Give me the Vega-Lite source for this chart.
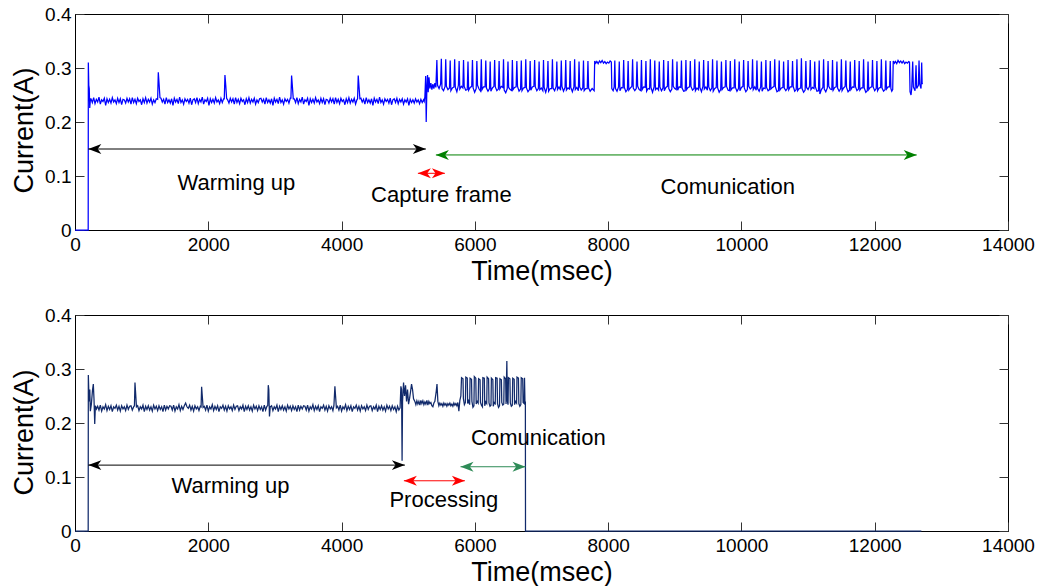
{
"$schema": "https://vega.github.io/schema/vega-lite/v6.json",
"autosize": {"type": "pad"},
"padding": {"left": 10, "top": 4, "right": 5, "bottom": 0},
"background": "white",
"spacing": 85,
"bounds": "flush",
"config": {
  "view": {"stroke": "black", "strokeWidth": 1},
  "font": "Liberation Sans",
  "axis": {"grid": false, "domainColor": "black", "tickColor": "#333333", "labelColor": "black", "labelFont": "Liberation Sans", "labelFontSize": 19, "titleFont": "Liberation Sans", "titleFontSize": 27, "titleFontWeight": "normal", "titleColor": "black", "tickSize": -9, "labelFlush": false, "labelOverlap": false}
},
"datasets": {
"top": [
{"t":0,"c":0},{"t":198,"c":0},{"t":200,"c":0.31},{"t":207,"c":0.268},{"t":214,"c":0.262},{"t":221,"c":0.226},{"t":232,"c":0.243},
{"t":240,"c":0.243},{"t":260,"c":0.236},{"t":280,"c":0.245},{"t":300,"c":0.234},{"t":320,"c":0.242},{"t":340,"c":0.237},{"t":360,"c":0.246},{"t":380,"c":0.233},{"t":400,"c":0.241},{"t":420,"c":0.238},{"t":440,"c":0.244},{"t":460,"c":0.231},{"t":480,"c":0.243},{"t":500,"c":0.236},{"t":520,"c":0.242},{"t":540,"c":0.235},{"t":560,"c":0.245},{"t":580,"c":0.237},{"t":600,"c":0.241},{"t":620,"c":0.234},{"t":640,"c":0.244},{"t":660,"c":0.236},{"t":680,"c":0.243},{"t":700,"c":0.232},{"t":720,"c":0.242},
{"t":740,"c":0.241},{"t":760,"c":0.235},{"t":780,"c":0.244},{"t":800,"c":0.237},{"t":820,"c":0.243},{"t":840,"c":0.233},{"t":860,"c":0.245},{"t":880,"c":0.236},{"t":900,"c":0.242},{"t":920,"c":0.234},{"t":940,"c":0.244},{"t":960,"c":0.238},{"t":980,"c":0.241},{"t":1000,"c":0.232},{"t":1020,"c":0.243},{"t":1040,"c":0.236},{"t":1060,"c":0.245},{"t":1080,"c":0.235},{"t":1100,"c":0.242},{"t":1120,"c":0.237},{"t":1140,"c":0.244},{"t":1160,"c":0.233},{"t":1180,"c":0.241},{"t":1200,"c":0.236},{"t":1220,"c":0.243},{"t":1240,"c":0.242},
{"t":1250,"c":0.292},{"t":1262,"c":0.27},{"t":1275,"c":0.245},
{"t":1290,"c":0.244},{"t":1310,"c":0.237},{"t":1330,"c":0.242},{"t":1350,"c":0.233},{"t":1370,"c":0.245},{"t":1390,"c":0.236},{"t":1410,"c":0.241},{"t":1430,"c":0.235},{"t":1450,"c":0.243},{"t":1470,"c":0.231},{"t":1490,"c":0.244},{"t":1510,"c":0.237},{"t":1530,"c":0.242},{"t":1550,"c":0.234},{"t":1570,"c":0.246},{"t":1590,"c":0.236},{"t":1610,"c":0.241},{"t":1630,"c":0.233},{"t":1650,"c":0.243},{"t":1670,"c":0.238},{"t":1690,"c":0.242},{"t":1710,"c":0.235},{"t":1730,"c":0.244},{"t":1750,"c":0.232},{"t":1770,"c":0.241},
{"t":1790,"c":0.243},{"t":1810,"c":0.236},{"t":1830,"c":0.245},{"t":1850,"c":0.234},{"t":1870,"c":0.242},{"t":1890,"c":0.237},{"t":1910,"c":0.246},{"t":1930,"c":0.233},{"t":1950,"c":0.241},{"t":1970,"c":0.238},{"t":1990,"c":0.244},{"t":2010,"c":0.231},{"t":2030,"c":0.243},{"t":2050,"c":0.236},{"t":2070,"c":0.242},{"t":2090,"c":0.235},{"t":2110,"c":0.245},{"t":2130,"c":0.237},{"t":2150,"c":0.241},{"t":2170,"c":0.234},{"t":2190,"c":0.244},{"t":2210,"c":0.236},{"t":2230,"c":0.243},{"t":2240,"c":0.243},
{"t":2250,"c":0.287},{"t":2262,"c":0.268},{"t":2275,"c":0.244},
{"t":2290,"c":0.241},{"t":2310,"c":0.235},{"t":2330,"c":0.244},{"t":2350,"c":0.237},{"t":2370,"c":0.243},{"t":2390,"c":0.233},{"t":2410,"c":0.245},{"t":2430,"c":0.236},{"t":2450,"c":0.242},{"t":2470,"c":0.234},{"t":2490,"c":0.244},{"t":2510,"c":0.238},{"t":2530,"c":0.241},{"t":2550,"c":0.232},{"t":2570,"c":0.243},{"t":2590,"c":0.236},{"t":2610,"c":0.245},{"t":2630,"c":0.235},{"t":2650,"c":0.242},{"t":2670,"c":0.237},{"t":2690,"c":0.244},{"t":2710,"c":0.233},{"t":2730,"c":0.241},{"t":2750,"c":0.236},{"t":2770,"c":0.243},
{"t":2790,"c":0.244},{"t":2810,"c":0.237},{"t":2830,"c":0.242},{"t":2850,"c":0.233},{"t":2870,"c":0.245},{"t":2890,"c":0.236},{"t":2910,"c":0.241},{"t":2930,"c":0.235},{"t":2950,"c":0.243},{"t":2970,"c":0.231},{"t":2990,"c":0.244},{"t":3010,"c":0.237},{"t":3030,"c":0.242},{"t":3050,"c":0.234},{"t":3070,"c":0.246},{"t":3090,"c":0.236},{"t":3110,"c":0.241},{"t":3130,"c":0.233},{"t":3150,"c":0.243},{"t":3170,"c":0.238},{"t":3190,"c":0.242},{"t":3210,"c":0.235},{"t":3230,"c":0.244},{"t":3240,"c":0.244},
{"t":3250,"c":0.286},{"t":3262,"c":0.266},{"t":3275,"c":0.243},
{"t":3290,"c":0.243},{"t":3310,"c":0.236},{"t":3330,"c":0.245},{"t":3350,"c":0.234},{"t":3370,"c":0.242},{"t":3390,"c":0.237},{"t":3410,"c":0.246},{"t":3430,"c":0.233},{"t":3450,"c":0.241},{"t":3470,"c":0.238},{"t":3490,"c":0.244},{"t":3510,"c":0.231},{"t":3530,"c":0.243},{"t":3550,"c":0.236},{"t":3570,"c":0.242},{"t":3590,"c":0.235},{"t":3610,"c":0.245},{"t":3630,"c":0.237},{"t":3650,"c":0.241},{"t":3670,"c":0.234},{"t":3690,"c":0.244},{"t":3710,"c":0.236},{"t":3730,"c":0.243},{"t":3750,"c":0.232},{"t":3770,"c":0.242},
{"t":3790,"c":0.241},{"t":3810,"c":0.235},{"t":3830,"c":0.244},{"t":3850,"c":0.237},{"t":3870,"c":0.243},{"t":3890,"c":0.233},{"t":3910,"c":0.245},{"t":3930,"c":0.236},{"t":3950,"c":0.242},{"t":3970,"c":0.234},{"t":3990,"c":0.244},{"t":4010,"c":0.238},{"t":4030,"c":0.241},{"t":4050,"c":0.232},{"t":4070,"c":0.243},{"t":4090,"c":0.236},{"t":4110,"c":0.245},{"t":4130,"c":0.235},{"t":4150,"c":0.242},{"t":4170,"c":0.237},{"t":4190,"c":0.244},{"t":4210,"c":0.233},{"t":4230,"c":0.241},{"t":4240,"c":0.243},
{"t":4250,"c":0.286},{"t":4262,"c":0.265},{"t":4275,"c":0.243},
{"t":4290,"c":0.244},{"t":4310,"c":0.237},{"t":4330,"c":0.242},{"t":4350,"c":0.233},{"t":4370,"c":0.245},{"t":4390,"c":0.236},{"t":4410,"c":0.241},{"t":4430,"c":0.235},{"t":4450,"c":0.243},{"t":4470,"c":0.231},{"t":4490,"c":0.244},{"t":4510,"c":0.237},{"t":4530,"c":0.242},{"t":4550,"c":0.234},{"t":4570,"c":0.246},{"t":4590,"c":0.236},{"t":4610,"c":0.241},{"t":4630,"c":0.233},{"t":4650,"c":0.243},{"t":4670,"c":0.238},{"t":4690,"c":0.242},{"t":4710,"c":0.235},{"t":4730,"c":0.244},{"t":4750,"c":0.232},{"t":4770,"c":0.241},
{"t":4790,"c":0.243},{"t":4810,"c":0.236},{"t":4830,"c":0.244},{"t":4850,"c":0.234},{"t":4870,"c":0.242},{"t":4890,"c":0.237},{"t":4910,"c":0.243},{"t":4930,"c":0.233},{"t":4950,"c":0.241},{"t":4970,"c":0.237},{"t":4990,"c":0.243},{"t":5010,"c":0.231},{"t":5030,"c":0.242},{"t":5050,"c":0.236},{"t":5070,"c":0.241},{"t":5090,"c":0.235},{"t":5110,"c":0.243},{"t":5130,"c":0.237},{"t":5150,"c":0.241},{"t":5170,"c":0.234},{"t":5190,"c":0.242},{"t":5210,"c":0.236},{"t":5230,"c":0.241},{"t":5240,"c":0.238},
{"t":5250,"c":0.247},{"t":5262,"c":0.285},{"t":5270,"c":0.2},{"t":5280,"c":0.262},{"t":5290,"c":0.287},{"t":5300,"c":0.255},{"t":5312,"c":0.283},{"t":5325,"c":0.262},{"t":5340,"c":0.272},{"t":5355,"c":0.26},{"t":5370,"c":0.27},{"t":5385,"c":0.262},{"t":5400,"c":0.272},{"t":5415,"c":0.264},
{"t":5430,"c":0.315},{"t":5440,"c":0.268},{"t":5463,"c":0.262},{"t":5486,"c":0.27},
{"t":5497,"c":0.317},{"t":5507,"c":0.262},{"t":5530,"c":0.258},{"t":5553,"c":0.266},
{"t":5563,"c":0.316},{"t":5573,"c":0.266},{"t":5596,"c":0.26},{"t":5619,"c":0.263},
{"t":5630,"c":0.314},{"t":5640,"c":0.258},{"t":5663,"c":0.263},{"t":5686,"c":0.265},
{"t":5697,"c":0.316},{"t":5707,"c":0.264},{"t":5730,"c":0.256},{"t":5753,"c":0.268},
{"t":5764,"c":0.313},{"t":5774,"c":0.261},{"t":5797,"c":0.266},{"t":5820,"c":0.263},
{"t":5830,"c":0.315},{"t":5840,"c":0.266},{"t":5863,"c":0.259},{"t":5886,"c":0.26},
{"t":5897,"c":0.312},{"t":5907,"c":0.259},{"t":5930,"c":0.264},{"t":5953,"c":0.266},
{"t":5964,"c":0.315},{"t":5974,"c":0.263},{"t":5997,"c":0.255},{"t":6020,"c":0.262},
{"t":6030,"c":0.313},{"t":6040,"c":0.268},{"t":6063,"c":0.261},{"t":6086,"c":0.257},
{"t":6097,"c":0.316},{"t":6107,"c":0.26},{"t":6130,"c":0.265},{"t":6153,"c":0.265},
{"t":6164,"c":0.314},{"t":6174,"c":0.263},{"t":6197,"c":0.257},{"t":6220,"c":0.262},
{"t":6230,"c":0.312},{"t":6240,"c":0.257},{"t":6263,"c":0.263},{"t":6286,"c":0.266},
{"t":6297,"c":0.315},{"t":6307,"c":0.265},{"t":6330,"c":0.258},{"t":6353,"c":0.261},
{"t":6364,"c":0.313},{"t":6374,"c":0.261},{"t":6397,"c":0.266},{"t":6420,"c":0.264},
{"t":6430,"c":0.316},{"t":6440,"c":0.259},{"t":6463,"c":0.254},{"t":6486,"c":0.262},
{"t":6497,"c":0.312},{"t":6507,"c":0.264},{"t":6530,"c":0.26},{"t":6553,"c":0.258},
{"t":6563,"c":0.315},{"t":6573,"c":0.26},{"t":6596,"c":0.264},{"t":6619,"c":0.265},
{"t":6630,"c":0.313},{"t":6640,"c":0.266},{"t":6663,"c":0.257},{"t":6686,"c":0.261},
{"t":6697,"c":0.314},{"t":6707,"c":0.258},{"t":6730,"c":0.263},{"t":6753,"c":0.264},
{"t":6764,"c":0.316},{"t":6774,"c":0.263},{"t":6797,"c":0.256},{"t":6820,"c":0.26},
{"t":6830,"c":0.313},{"t":6840,"c":0.259},{"t":6863,"c":0.265},{"t":6886,"c":0.266},
{"t":6897,"c":0.315},{"t":6907,"c":0.265},{"t":6930,"c":0.258},{"t":6953,"c":0.262},
{"t":6964,"c":0.312},{"t":6974,"c":0.26},{"t":6997,"c":0.263},{"t":7020,"c":0.258},
{"t":7030,"c":0.315},{"t":7040,"c":0.264},{"t":7063,"c":0.255},{"t":7086,"c":0.265},
{"t":7097,"c":0.313},{"t":7107,"c":0.257},{"t":7130,"c":0.262},{"t":7153,"c":0.262},
{"t":7164,"c":0.316},{"t":7174,"c":0.263},{"t":7197,"c":0.258},{"t":7220,"c":0.266},
{"t":7230,"c":0.312},{"t":7240,"c":0.26},{"t":7263,"c":0.265},{"t":7286,"c":0.259},
{"t":7297,"c":0.314},{"t":7307,"c":0.266},{"t":7330,"c":0.257},{"t":7353,"c":0.264},
{"t":7364,"c":0.315},{"t":7374,"c":0.259},{"t":7397,"c":0.263},{"t":7420,"c":0.261},
{"t":7430,"c":0.313},{"t":7440,"c":0.264},{"t":7463,"c":0.256},{"t":7486,"c":0.265},
{"t":7497,"c":0.316},{"t":7507,"c":0.26},{"t":7530,"c":0.264},{"t":7553,"c":0.258},
{"t":7563,"c":0.312},{"t":7573,"c":0.265},{"t":7596,"c":0.259},{"t":7619,"c":0.263},
{"t":7630,"c":0.314},{"t":7640,"c":0.258},{"t":7663,"c":0.262},{"t":7686,"c":0.262},
{"t":7697,"c":0.313},{"t":7707,"c":0.263},{"t":7730,"c":0.257},{"t":7760,"c":0.262},{"t":7790,"c":0.258},
{"t":7798,"c":0.313},{"t":7815,"c":0.309},{"t":7830,"c":0.312},{"t":7850,"c":0.308},{"t":7870,"c":0.313},{"t":7890,"c":0.31},{"t":7910,"c":0.314},{"t":7930,"c":0.309},{"t":7950,"c":0.312},{"t":7970,"c":0.308},{"t":7990,"c":0.311},{"t":8010,"c":0.309},{"t":8030,"c":0.313},{"t":8048,"c":0.311},{"t":8055,"c":0.262},{"t":8075,"c":0.258},{"t":8090,"c":0.265},
{"t":8100,"c":0.314},{"t":8110,"c":0.262},{"t":8133,"c":0.257},{"t":8156,"c":0.265},
{"t":8167,"c":0.312},{"t":8177,"c":0.258},{"t":8200,"c":0.264},{"t":8222,"c":0.263},
{"t":8233,"c":0.315},{"t":8243,"c":0.264},{"t":8266,"c":0.256},{"t":8289,"c":0.26},
{"t":8300,"c":0.313},{"t":8310,"c":0.259},{"t":8333,"c":0.263},{"t":8356,"c":0.266},
{"t":8367,"c":0.316},{"t":8377,"c":0.263},{"t":8400,"c":0.258},{"t":8422,"c":0.262},
{"t":8433,"c":0.312},{"t":8443,"c":0.266},{"t":8466,"c":0.26},{"t":8489,"c":0.258},
{"t":8500,"c":0.315},{"t":8510,"c":0.26},{"t":8533,"c":0.265},{"t":8556,"c":0.264},
{"t":8567,"c":0.313},{"t":8577,"c":0.257},{"t":8600,"c":0.262},{"t":8622,"c":0.261},
{"t":8633,"c":0.316},{"t":8643,"c":0.264},{"t":8666,"c":0.255},{"t":8689,"c":0.265},
{"t":8700,"c":0.314},{"t":8710,"c":0.26},{"t":8733,"c":0.263},{"t":8756,"c":0.259},
{"t":8767,"c":0.312},{"t":8777,"c":0.265},{"t":8800,"c":0.258},{"t":8822,"c":0.263},
{"t":8833,"c":0.315},{"t":8843,"c":0.258},{"t":8866,"c":0.264},{"t":8889,"c":0.266},
{"t":8900,"c":0.313},{"t":8910,"c":0.262},{"t":8933,"c":0.256},{"t":8956,"c":0.261},
{"t":8967,"c":0.316},{"t":8977,"c":0.266},{"t":9000,"c":0.262},{"t":9022,"c":0.26},
{"t":9033,"c":0.312},{"t":9043,"c":0.259},{"t":9066,"c":0.265},{"t":9089,"c":0.264},
{"t":9100,"c":0.314},{"t":9110,"c":0.263},{"t":9133,"c":0.257},{"t":9156,"c":0.258},
{"t":9167,"c":0.315},{"t":9177,"c":0.26},{"t":9200,"c":0.264},{"t":9222,"c":0.265},
{"t":9233,"c":0.313},{"t":9243,"c":0.266},{"t":9266,"c":0.259},{"t":9289,"c":0.262},
{"t":9300,"c":0.316},{"t":9310,"c":0.258},{"t":9333,"c":0.263},{"t":9356,"c":0.26},
{"t":9367,"c":0.312},{"t":9377,"c":0.264},{"t":9400,"c":0.256},{"t":9422,"c":0.266},
{"t":9433,"c":0.315},{"t":9443,"c":0.261},{"t":9466,"c":0.265},{"t":9489,"c":0.259},
{"t":9500,"c":0.313},{"t":9510,"c":0.265},{"t":9533,"c":0.258},{"t":9556,"c":0.263},
{"t":9567,"c":0.316},{"t":9577,"c":0.257},{"t":9600,"c":0.262},{"t":9622,"c":0.264},
{"t":9633,"c":0.314},{"t":9643,"c":0.263},{"t":9666,"c":0.255},{"t":9689,"c":0.26},
{"t":9700,"c":0.312},{"t":9710,"c":0.26},{"t":9733,"c":0.264},{"t":9756,"c":0.265},
{"t":9767,"c":0.315},{"t":9777,"c":0.266},{"t":9800,"c":0.259},{"t":9822,"c":0.258},
{"t":9833,"c":0.313},{"t":9843,"c":0.259},{"t":9866,"c":0.263},{"t":9889,"c":0.263},
{"t":9900,"c":0.316},{"t":9910,"c":0.264},{"t":9933,"c":0.257},{"t":9956,"c":0.262},
{"t":9967,"c":0.312},{"t":9977,"c":0.258},{"t":10000,"c":0.264},{"t":10022,"c":0.266},
{"t":10033,"c":0.315},{"t":10043,"c":0.263},{"t":10066,"c":0.256},{"t":10089,"c":0.26},
{"t":10100,"c":0.313},{"t":10110,"c":0.266},{"t":10133,"c":0.261},{"t":10156,"c":0.264},
{"t":10167,"c":0.316},{"t":10177,"c":0.26},{"t":10200,"c":0.265},{"t":10222,"c":0.259},
{"t":10233,"c":0.314},{"t":10243,"c":0.262},{"t":10266,"c":0.257},{"t":10289,"c":0.265},
{"t":10300,"c":0.312},{"t":10310,"c":0.257},{"t":10333,"c":0.263},{"t":10356,"c":0.262},
{"t":10367,"c":0.315},{"t":10377,"c":0.264},{"t":10400,"c":0.258},{"t":10422,"c":0.26},
{"t":10433,"c":0.313},{"t":10443,"c":0.261},{"t":10466,"c":0.264},{"t":10489,"c":0.266},
{"t":10500,"c":0.316},{"t":10510,"c":0.265},{"t":10533,"c":0.256},{"t":10556,"c":0.258},
{"t":10567,"c":0.314},{"t":10577,"c":0.259},{"t":10600,"c":0.263},{"t":10622,"c":0.264},
{"t":10633,"c":0.312},{"t":10643,"c":0.263},{"t":10666,"c":0.258},{"t":10689,"c":0.262},
{"t":10700,"c":0.315},{"t":10710,"c":0.26},{"t":10733,"c":0.265},{"t":10756,"c":0.265},
{"t":10767,"c":0.313},{"t":10777,"c":0.266},{"t":10800,"c":0.257},{"t":10822,"c":0.26},
{"t":10833,"c":0.316},{"t":10843,"c":0.258},{"t":10866,"c":0.262},{"t":10889,"c":0.263},
{"t":10900,"c":0.318},{"t":10910,"c":0.262},{"t":10933,"c":0.255},{"t":10956,"c":0.259},
{"t":10967,"c":0.313},{"t":10977,"c":0.264},{"t":11000,"c":0.26},{"t":11022,"c":0.266},
{"t":11033,"c":0.315},{"t":11043,"c":0.26},{"t":11066,"c":0.264},{"t":11089,"c":0.262},
{"t":11100,"c":0.312},{"t":11110,"c":0.265},{"t":11133,"c":0.257},{"t":11156,"c":0.258},
{"t":11167,"c":0.314},{"t":11177,"c":0.252},{"t":11200,"c":0.26},{"t":11222,"c":0.264},
{"t":11233,"c":0.316},{"t":11243,"c":0.261},{"t":11266,"c":0.256},{"t":11289,"c":0.263},
{"t":11300,"c":0.313},{"t":11310,"c":0.266},{"t":11333,"c":0.261},{"t":11356,"c":0.26},
{"t":11367,"c":0.315},{"t":11377,"c":0.259},{"t":11400,"c":0.264},{"t":11422,"c":0.265},
{"t":11433,"c":0.312},{"t":11443,"c":0.263},{"t":11466,"c":0.257},{"t":11489,"c":0.262},
{"t":11500,"c":0.316},{"t":11510,"c":0.258},{"t":11533,"c":0.263},{"t":11556,"c":0.266},
{"t":11567,"c":0.314},{"t":11577,"c":0.264},{"t":11600,"c":0.256},{"t":11622,"c":0.259},
{"t":11633,"c":0.312},{"t":11643,"c":0.26},{"t":11666,"c":0.265},{"t":11689,"c":0.264},
{"t":11700,"c":0.315},{"t":11710,"c":0.266},{"t":11733,"c":0.258},{"t":11756,"c":0.261},
{"t":11767,"c":0.313},{"t":11777,"c":0.259},{"t":11800,"c":0.263},{"t":11822,"c":0.263},
{"t":11833,"c":0.316},{"t":11843,"c":0.263},{"t":11866,"c":0.255},{"t":11889,"c":0.258},
{"t":11900,"c":0.312},{"t":11910,"c":0.26},{"t":11933,"c":0.264},{"t":11956,"c":0.265},
{"t":11967,"c":0.315},{"t":11977,"c":0.265},{"t":12000,"c":0.258},{"t":12022,"c":0.262},
{"t":12033,"c":0.313},{"t":12043,"c":0.258},{"t":12066,"c":0.263},{"t":12089,"c":0.264},
{"t":12100,"c":0.316},{"t":12110,"c":0.263},{"t":12133,"c":0.257},{"t":12156,"c":0.26},
{"t":12167,"c":0.314},{"t":12177,"c":0.261},{"t":12200,"c":0.265},{"t":12222,"c":0.265},
{"t":12233,"c":0.313},{"t":12243,"c":0.262},{"t":12256,"c":0.257},{"t":12270,"c":0.26},
{"t":12278,"c":0.313},{"t":12295,"c":0.309},{"t":12310,"c":0.312},{"t":12330,"c":0.308},{"t":12350,"c":0.314},{"t":12370,"c":0.31},{"t":12390,"c":0.313},{"t":12410,"c":0.309},{"t":12430,"c":0.313},{"t":12450,"c":0.308},{"t":12470,"c":0.311},{"t":12490,"c":0.309},{"t":12510,"c":0.312},{"t":12522,"c":0.311},
{"t":12530,"c":0.256},{"t":12545,"c":0.25},{"t":12555,"c":0.262},{"t":12570,"c":0.312},{"t":12580,"c":0.265},{"t":12605,"c":0.258},{"t":12620,"c":0.305},{"t":12630,"c":0.262},{"t":12655,"c":0.268},{"t":12665,"c":0.314},{"t":12675,"c":0.27},{"t":12695,"c":0.262},{"t":12705,"c":0.31},{"t":12712,"c":0.27},{"t":12716,"c":0.272}
],
"bot": [
{"t":0,"c":0},{"t":198,"c":0},{"t":200,"c":0.289},{"t":208,"c":0.255},{"t":215,"c":0.24},{"t":222,"c":0.262},{"t":230,"c":0.222},{"t":245,"c":0.234},{"t":262,"c":0.26},{"t":275,"c":0.272},{"t":285,"c":0.245},{"t":296,"c":0.198},{"t":306,"c":0.232},{"t":322,"c":0.226},
{"t":340,"c":0.231},{"t":360,"c":0.224},{"t":380,"c":0.233},{"t":400,"c":0.222},{"t":420,"c":0.23},{"t":440,"c":0.226},{"t":460,"c":0.234},{"t":480,"c":0.223},{"t":500,"c":0.231},{"t":520,"c":0.225},{"t":540,"c":0.232},{"t":560,"c":0.221},{"t":580,"c":0.23},{"t":600,"c":0.227},{"t":620,"c":0.233},{"t":640,"c":0.224},{"t":660,"c":0.231},{"t":680,"c":0.222},{"t":700,"c":0.232},{"t":720,"c":0.226},{"t":740,"c":0.23},{"t":760,"c":0.223},{"t":780,"c":0.233},{"t":800,"c":0.225},{"t":820,"c":0.231},{"t":840,"c":0.232},{"t":860,"c":0.224},{"t":880,"c":0.23},{"t":892,"c":0.232},
{"t":900,"c":0.275},{"t":910,"c":0.255},{"t":922,"c":0.23},
{"t":940,"c":0.232},{"t":960,"c":0.223},{"t":980,"c":0.23},{"t":1000,"c":0.226},{"t":1020,"c":0.233},{"t":1040,"c":0.221},{"t":1060,"c":0.231},{"t":1080,"c":0.225},{"t":1100,"c":0.232},{"t":1120,"c":0.224},{"t":1140,"c":0.23},{"t":1160,"c":0.222},{"t":1180,"c":0.233},{"t":1200,"c":0.226},{"t":1220,"c":0.231},{"t":1240,"c":0.223},{"t":1260,"c":0.232},{"t":1280,"c":0.225},{"t":1300,"c":0.23},{"t":1320,"c":0.221},{"t":1340,"c":0.233},{"t":1360,"c":0.224},{"t":1380,"c":0.231},{"t":1400,"c":0.226},{"t":1420,"c":0.232},
{"t":1440,"c":0.231},{"t":1460,"c":0.224},{"t":1480,"c":0.233},{"t":1500,"c":0.222},{"t":1520,"c":0.23},{"t":1540,"c":0.226},{"t":1560,"c":0.234},{"t":1580,"c":0.223},{"t":1600,"c":0.231},{"t":1620,"c":0.225},{"t":1640,"c":0.232},{"t":1660,"c":0.237},{"t":1680,"c":0.23},{"t":1700,"c":0.227},{"t":1720,"c":0.233},{"t":1740,"c":0.224},{"t":1760,"c":0.231},{"t":1780,"c":0.222},{"t":1800,"c":0.232},{"t":1820,"c":0.226},{"t":1840,"c":0.23},{"t":1860,"c":0.223},{"t":1880,"c":0.231},{"t":1892,"c":0.23},
{"t":1900,"c":0.267},{"t":1910,"c":0.25},{"t":1922,"c":0.229},
{"t":1940,"c":0.231},{"t":1960,"c":0.224},{"t":1980,"c":0.233},{"t":2000,"c":0.222},{"t":2020,"c":0.23},{"t":2040,"c":0.226},{"t":2060,"c":0.234},{"t":2080,"c":0.223},{"t":2100,"c":0.231},{"t":2120,"c":0.225},{"t":2140,"c":0.232},{"t":2160,"c":0.221},{"t":2180,"c":0.23},{"t":2200,"c":0.227},{"t":2220,"c":0.233},{"t":2240,"c":0.224},{"t":2260,"c":0.231},{"t":2280,"c":0.222},{"t":2300,"c":0.232},{"t":2320,"c":0.226},{"t":2340,"c":0.23},{"t":2360,"c":0.223},{"t":2380,"c":0.233},{"t":2400,"c":0.225},{"t":2420,"c":0.231},
{"t":2440,"c":0.232},{"t":2460,"c":0.223},{"t":2480,"c":0.23},{"t":2500,"c":0.226},{"t":2520,"c":0.233},{"t":2540,"c":0.221},{"t":2560,"c":0.231},{"t":2580,"c":0.225},{"t":2600,"c":0.232},{"t":2620,"c":0.224},{"t":2640,"c":0.23},{"t":2660,"c":0.222},{"t":2680,"c":0.233},{"t":2700,"c":0.226},{"t":2720,"c":0.231},{"t":2740,"c":0.223},{"t":2760,"c":0.232},{"t":2780,"c":0.225},{"t":2800,"c":0.23},{"t":2820,"c":0.221},{"t":2840,"c":0.233},{"t":2860,"c":0.224},{"t":2880,"c":0.231},{"t":2892,"c":0.232},
{"t":2900,"c":0.27},{"t":2908,"c":0.262},{"t":2918,"c":0.212},{"t":2930,"c":0.23},
{"t":2950,"c":0.232},{"t":2970,"c":0.223},{"t":2990,"c":0.23},{"t":3010,"c":0.226},{"t":3030,"c":0.233},{"t":3050,"c":0.221},{"t":3070,"c":0.231},{"t":3090,"c":0.225},{"t":3110,"c":0.232},{"t":3130,"c":0.224},{"t":3150,"c":0.23},{"t":3170,"c":0.222},{"t":3190,"c":0.233},{"t":3210,"c":0.226},{"t":3230,"c":0.231},{"t":3250,"c":0.223},{"t":3270,"c":0.232},{"t":3290,"c":0.225},{"t":3310,"c":0.23},{"t":3330,"c":0.221},{"t":3350,"c":0.233},{"t":3370,"c":0.224},{"t":3390,"c":0.231},{"t":3410,"c":0.226},{"t":3430,"c":0.232},
{"t":3450,"c":0.231},{"t":3470,"c":0.224},{"t":3490,"c":0.233},{"t":3510,"c":0.222},{"t":3530,"c":0.23},{"t":3550,"c":0.226},{"t":3570,"c":0.234},{"t":3590,"c":0.223},{"t":3610,"c":0.231},{"t":3630,"c":0.225},{"t":3650,"c":0.232},{"t":3670,"c":0.221},{"t":3690,"c":0.23},{"t":3710,"c":0.227},{"t":3730,"c":0.233},{"t":3750,"c":0.224},{"t":3770,"c":0.231},{"t":3790,"c":0.222},{"t":3810,"c":0.232},{"t":3830,"c":0.226},{"t":3850,"c":0.23},{"t":3870,"c":0.223},{"t":3885,"c":0.232},
{"t":3900,"c":0.268},{"t":3910,"c":0.25},{"t":3922,"c":0.228},
{"t":3940,"c":0.231},{"t":3960,"c":0.224},{"t":3980,"c":0.233},{"t":4000,"c":0.222},{"t":4020,"c":0.23},{"t":4040,"c":0.226},{"t":4060,"c":0.234},{"t":4080,"c":0.223},{"t":4100,"c":0.231},{"t":4120,"c":0.225},{"t":4140,"c":0.232},{"t":4160,"c":0.221},{"t":4180,"c":0.23},{"t":4200,"c":0.227},{"t":4220,"c":0.233},{"t":4240,"c":0.224},{"t":4260,"c":0.231},{"t":4280,"c":0.222},{"t":4300,"c":0.232},{"t":4320,"c":0.226},{"t":4340,"c":0.23},{"t":4360,"c":0.223},{"t":4380,"c":0.233},{"t":4400,"c":0.225},{"t":4420,"c":0.231},
{"t":4440,"c":0.232},{"t":4460,"c":0.223},{"t":4480,"c":0.23},{"t":4500,"c":0.226},{"t":4520,"c":0.233},{"t":4540,"c":0.221},{"t":4560,"c":0.231},{"t":4580,"c":0.225},{"t":4600,"c":0.232},{"t":4620,"c":0.224},{"t":4640,"c":0.23},{"t":4660,"c":0.222},{"t":4680,"c":0.233},{"t":4700,"c":0.226},{"t":4720,"c":0.231},{"t":4740,"c":0.223},{"t":4760,"c":0.232},{"t":4780,"c":0.225},{"t":4800,"c":0.23},{"t":4820,"c":0.221},{"t":4840,"c":0.231},{"t":4860,"c":0.224},{"t":4878,"c":0.228},
{"t":4890,"c":0.268},{"t":4900,"c":0.262},{"t":4908,"c":0.13},{"t":4915,"c":0.24},{"t":4930,"c":0.275},{"t":4945,"c":0.25},{"t":4960,"c":0.27},{"t":4975,"c":0.24},{"t":4990,"c":0.262},{"t":5005,"c":0.235},{"t":5020,"c":0.245},{"t":5035,"c":0.258},{"t":5050,"c":0.272},{"t":5065,"c":0.262},{"t":5080,"c":0.245},{"t":5100,"c":0.24},{"t":5115,"c":0.234},{"t":5130,"c":0.241},{"t":5145,"c":0.235},{"t":5160,"c":0.24},{"t":5175,"c":0.233},{"t":5190,"c":0.242},{"t":5205,"c":0.236},{"t":5220,"c":0.241},{"t":5235,"c":0.234},{"t":5250,"c":0.239},{"t":5265,"c":0.235},{"t":5280,"c":0.242},{"t":5295,"c":0.233},{"t":5310,"c":0.24},{"t":5325,"c":0.236},{"t":5340,"c":0.238},{"t":5355,"c":0.232},{"t":5370,"c":0.23},{"t":5385,"c":0.237},{"t":5400,"c":0.24},{"t":5420,"c":0.258},{"t":5432,"c":0.272},{"t":5445,"c":0.24},{"t":5460,"c":0.232},{"t":5475,"c":0.237},{"t":5490,"c":0.233},{"t":5505,"c":0.236},{"t":5520,"c":0.231},{"t":5535,"c":0.237},{"t":5550,"c":0.233},{"t":5565,"c":0.236},{"t":5580,"c":0.231},{"t":5595,"c":0.236},{"t":5610,"c":0.233},{"t":5625,"c":0.237},{"t":5640,"c":0.232},{"t":5655,"c":0.235},{"t":5670,"c":0.231},{"t":5685,"c":0.237},{"t":5700,"c":0.233},{"t":5715,"c":0.236},{"t":5730,"c":0.232},{"t":5745,"c":0.238},{"t":5760,"c":0.222},{"t":5775,"c":0.242},{"t":5790,"c":0.25},
{"t":5800,"c":0.284},{"t":5822,"c":0.282},{"t":5828,"c":0.245},{"t":5843,"c":0.234},{"t":5858,"c":0.238},
{"t":5864,"c":0.285},{"t":5886,"c":0.283},{"t":5892,"c":0.236},{"t":5907,"c":0.241},{"t":5922,"c":0.234},
{"t":5928,"c":0.283},{"t":5950,"c":0.281},{"t":5956,"c":0.24},{"t":5971,"c":0.229},{"t":5986,"c":0.232},
{"t":5992,"c":0.286},{"t":6014,"c":0.283},{"t":6020,"c":0.235},{"t":6035,"c":0.24},{"t":6050,"c":0.237},
{"t":6056,"c":0.282},{"t":6078,"c":0.28},{"t":6084,"c":0.238},{"t":6099,"c":0.233},{"t":6114,"c":0.23},
{"t":6120,"c":0.284},{"t":6142,"c":0.283},{"t":6148,"c":0.232},{"t":6163,"c":0.239},{"t":6178,"c":0.236},
{"t":6184,"c":0.285},{"t":6206,"c":0.282},{"t":6212,"c":0.237},{"t":6227,"c":0.231},{"t":6242,"c":0.233},
{"t":6248,"c":0.283},{"t":6270,"c":0.28},{"t":6276,"c":0.231},{"t":6291,"c":0.238},{"t":6306,"c":0.236},
{"t":6312,"c":0.284},{"t":6334,"c":0.283},{"t":6340,"c":0.236},{"t":6355,"c":0.229},{"t":6370,"c":0.232},
{"t":6376,"c":0.282},{"t":6398,"c":0.28},{"t":6404,"c":0.238},{"t":6419,"c":0.233},{"t":6434,"c":0.235},
{"t":6440,"c":0.285},{"t":6462,"c":0.282},{"t":6468,"c":0.235},{"t":6480,"c":0.315},{"t":6488,"c":0.24},{"t":6498,"c":0.234},
{"t":6504,"c":0.284},{"t":6526,"c":0.282},{"t":6532,"c":0.237},{"t":6547,"c":0.231},{"t":6562,"c":0.233},
{"t":6568,"c":0.283},{"t":6590,"c":0.281},{"t":6596,"c":0.234},{"t":6611,"c":0.24},{"t":6626,"c":0.237},
{"t":6632,"c":0.285},{"t":6654,"c":0.283},{"t":6660,"c":0.236},{"t":6675,"c":0.231},{"t":6690,"c":0.234},
{"t":6696,"c":0.284},{"t":6718,"c":0.282},{"t":6724,"c":0.238},{"t":6740,"c":0.236},
{"t":6745,"c":0.284},{"t":6752,"c":0.238},{"t":6758,"c":0.24},{"t":6760,"c":0},{"t":12700,"c":0}
],
"arrA": [
{"kind":"warm","x1":200,"x2":5265,"y":0.15},
{"kind":"cap","x1":5145,"x2":5550,"y":0.105},
{"kind":"comm","x1":5415,"x2":12630,"y":0.139}
],
"labA": [
{"label":"Warming up","x":2422,"y":0.087},
{"label":"Capture frame","x":5497,"y":0.065},
{"label":"Comunication","x":9795,"y":0.08}
],
"arrB": [
{"kind":"warm","x1":200,"x2":4950,"y":0.122},
{"kind":"proc","x1":4935,"x2":5850,"y":0.093},
{"kind":"comm2","x1":5785,"x2":6760,"y":0.119}
],
"labB": [
{"label":"Warming up","x":2333,"y":0.084},
{"label":"Processing","x":5535,"y":0.058},
{"label":"Comunication","x":6953,"y":0.173}
]
},
"vconcat": [
{
"width": 933, "height": 216,
"layer": [
 {"data": {"name": "top"}, "mark": {"type": "line", "color": "#0000ff", "strokeWidth": 1.25},
  "encoding": {
   "x": {"field": "t", "type": "quantitative", "scale": {"domain": [0, 14000], "nice": false}, "axis": {"title": "Time(msec)", "values": [0,2000,4000,6000,8000,10000,12000,14000], "format": "d", "labelPadding": 14, "titlePadding": 4}},
   "y": {"field": "c", "type": "quantitative", "scale": {"domain": [0, 0.4], "nice": false}, "axis": {"title": "Current(A)", "values": [0,0.1,0.2,0.3,0.4], "format": "~g", "labelPadding": 13, "titlePadding": 6, "titleY": 116}}
  }},
 {"data": {"name": "arrA"}, "mark": {"type": "rule", "strokeWidth": 1},
  "encoding": {
   "x": {"field": "x1", "type": "quantitative", "axis": null}, "x2": {"field": "x2"},
   "y": {"field": "y", "type": "quantitative", "axis": null},
   "color": {"field": "kind", "type": "nominal", "scale": {"domain": ["warm","cap","comm","proc","comm2"], "range": ["#000000","#ff0000","#008000","#ff0000","#2e8b57"]}, "legend": null}
  }},
 {"data": {"name": "arrA"}, "transform": [{"fold": ["x1","x2"], "as": ["end","xe"]}],
  "mark": {"type": "point", "filled": true, "opacity": 1, "size": 676},
  "encoding": {
   "x": {"field": "xe", "type": "quantitative", "axis": null},
   "y": {"field": "y", "type": "quantitative", "axis": null},
   "shape": {"field": "end", "type": "nominal", "scale": {"domain": ["x1","x2"], "range": ["M0,0L1,-0.38L0.72,0L1,0.38Z","M0,0L-1,-0.38L-0.72,0L-1,0.38Z"]}, "legend": null},
   "color": {"field": "kind", "type": "nominal", "scale": {"domain": ["warm","cap","comm","proc","comm2"], "range": ["#000000","#ff0000","#008000","#ff0000","#2e8b57"]}, "legend": null}
  }},
 {"data": {"name": "labA"}, "mark": {"type": "text", "fontSize": 22, "font": "Liberation Sans", "color": "black"},
  "encoding": {
   "x": {"field": "x", "type": "quantitative", "axis": {"orient": "top", "labels": false, "title": null, "domain": false, "values": [0,2000,4000,6000,8000,10000,12000,14000]}},
   "y": {"field": "y", "type": "quantitative", "axis": {"orient": "right", "labels": false, "title": null, "domain": false, "values": [0,0.1,0.2,0.3,0.4]}},
   "text": {"field": "label"}
  }}
],
"resolve": {"axis": {"x": "independent", "y": "independent"}}
},
{
"width": 933, "height": 216,
"layer": [
 {"data": {"name": "bot"}, "mark": {"type": "line", "color": "#112a6b", "strokeWidth": 1.25},
  "encoding": {
   "x": {"field": "t", "type": "quantitative", "scale": {"domain": [0, 14000], "nice": false}, "axis": {"title": "Time(msec)", "values": [0,2000,4000,6000,8000,10000,12000,14000], "format": "d", "labelPadding": 14, "titlePadding": 4}},
   "y": {"field": "c", "type": "quantitative", "scale": {"domain": [0, 0.4], "nice": false}, "axis": {"title": "Current(A)", "values": [0,0.1,0.2,0.3,0.4], "format": "~g", "labelPadding": 13, "titlePadding": 6, "titleY": 117}}
  }},
 {"data": {"name": "arrB"}, "mark": {"type": "rule", "strokeWidth": 1},
  "encoding": {
   "x": {"field": "x1", "type": "quantitative", "axis": null}, "x2": {"field": "x2"},
   "y": {"field": "y", "type": "quantitative", "axis": null},
   "color": {"field": "kind", "type": "nominal", "scale": {"domain": ["warm","cap","comm","proc","comm2"], "range": ["#000000","#ff0000","#008000","#ff0000","#2e8b57"]}, "legend": null}
  }},
 {"data": {"name": "arrB"}, "transform": [{"fold": ["x1","x2"], "as": ["end","xe"]}],
  "mark": {"type": "point", "filled": true, "opacity": 1, "size": 676},
  "encoding": {
   "x": {"field": "xe", "type": "quantitative", "axis": null},
   "y": {"field": "y", "type": "quantitative", "axis": null},
   "shape": {"field": "end", "type": "nominal", "scale": {"domain": ["x1","x2"], "range": ["M0,0L1,-0.38L0.72,0L1,0.38Z","M0,0L-1,-0.38L-0.72,0L-1,0.38Z"]}, "legend": null},
   "color": {"field": "kind", "type": "nominal", "scale": {"domain": ["warm","cap","comm","proc","comm2"], "range": ["#000000","#ff0000","#008000","#ff0000","#2e8b57"]}, "legend": null}
  }},
 {"data": {"name": "labB"}, "mark": {"type": "text", "fontSize": 22, "font": "Liberation Sans", "color": "black"},
  "encoding": {
   "x": {"field": "x", "type": "quantitative", "axis": {"orient": "top", "labels": false, "title": null, "domain": false, "values": [0,2000,4000,6000,8000,10000,12000,14000]}},
   "y": {"field": "y", "type": "quantitative", "axis": {"orient": "right", "labels": false, "title": null, "domain": false, "values": [0,0.1,0.2,0.3,0.4]}},
   "text": {"field": "label"}
  }}
],
"resolve": {"axis": {"x": "independent", "y": "independent"}}
}
]
}
